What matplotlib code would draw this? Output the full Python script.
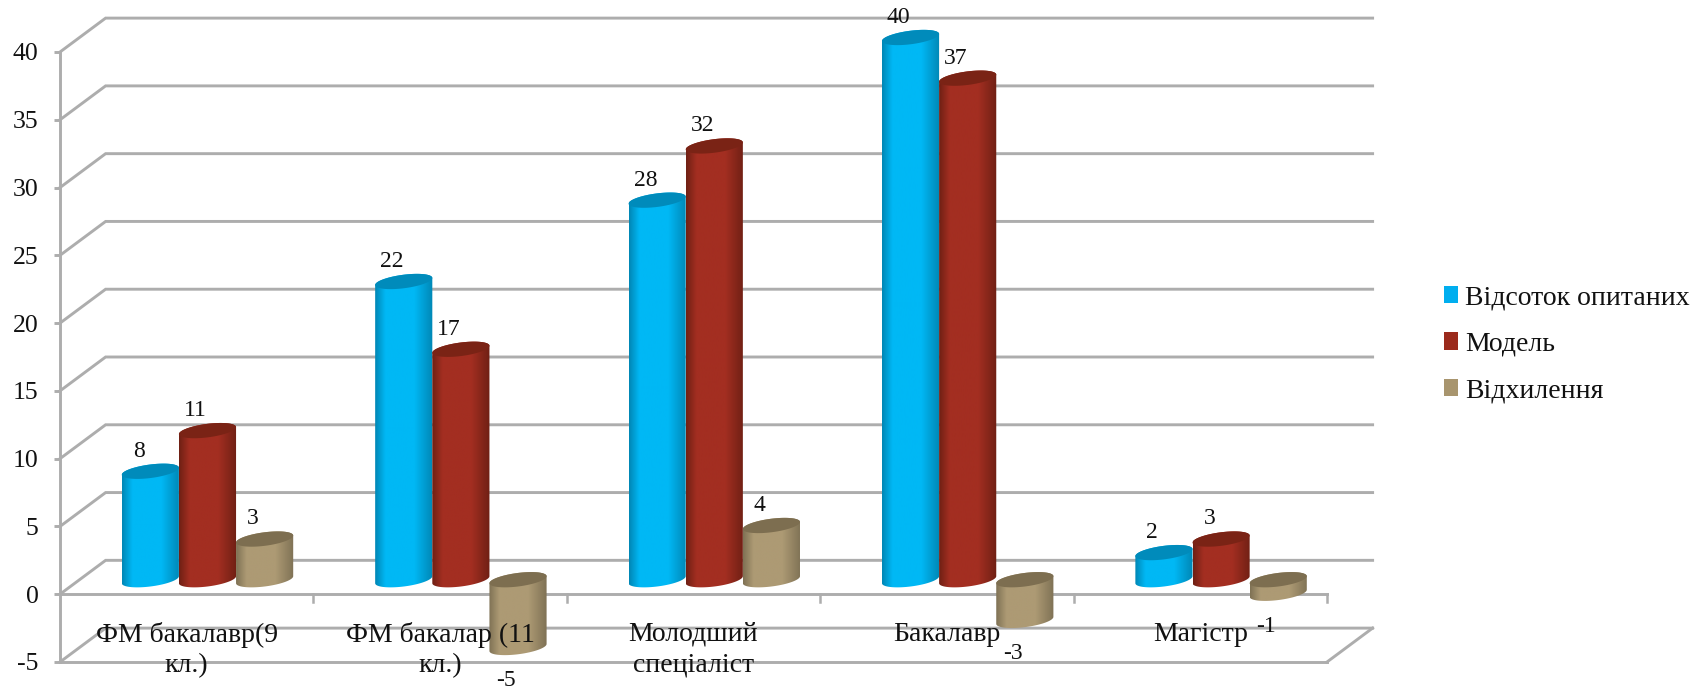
import numpy as np
import matplotlib
matplotlib.use("Agg")
import matplotlib.pyplot as plt
from matplotlib.colors import LinearSegmentedColormap
from matplotlib.patches import PathPatch, Patch, Polygon
from matplotlib.path import Path

categories = ["ФМ бакалавр(9\nкл.)", "ФМ бакалар (11\nкл.)", "Молодший\nспеціаліст", "Бакалавр", "Магістр"]
series_names = ["Відсоток опитаних", "Модель", "Відхилення"]
respondents = [8, 22, 28, 40, 2]
model = [11, 17, 32, 37, 3]
deviation = [3, -5, 4, -3, -1]
y_ticks = [-5, 0, 5, 10, 15, 20, 25, 30, 35, 40]

series_values = [respondents, model, deviation]
side_colors = [("#0087B5", "#00B8F5"), ("#6F2014", "#A32E21"), ("#7F7255", "#AD9A74")]
top_colors = ["#008BBB", "#7A2315", "#7D6E50"]
legend_colors = ["#00AEEF", "#9B2A1C", "#A8956E"]
GRID = "#ADADAD"
FONT = "Liberation Serif"

W, H = 1707, 690
fig = plt.figure(figsize=(W / 100, H / 100), dpi=100, facecolor="white")
x0, x1 = 60, 1327
ytop, ybot = 52, 662
ax = fig.add_axes([x0 / W, 1 - ybot / H, (x1 - x0) / W, (ybot - ytop) / H])
ax.set_xlim(0, len(categories))
ax.set_ylim(-5, 40)
ax.patch.set_visible(False)

DX, DY = 0.18, 2.5      # depth of the wall
BX, BY = 0.082, 1.07    # depth of the bar plane
BAR_W = 0.2255
LW = 2.1

# walls and floor
for v in y_ticks:
    ax.plot([0, DX, len(categories) + DX], [v, v + DY, v + DY], color=GRID, lw=LW, zorder=1,
            clip_on=False, solid_joinstyle="miter")
ax.plot([0, len(categories)], [-5, -5], color=GRID, lw=LW, zorder=1, clip_on=False)
ax.plot([len(categories), len(categories) + DX], [-5, -5 + DY], color=GRID, lw=LW, zorder=1, clip_on=False)
ax.plot([0, len(categories)], [0, 0], color=GRID, lw=LW, zorder=1, clip_on=False)

for s in ["top", "right", "bottom"]:
    ax.spines[s].set_visible(False)
ax.spines["left"].set_color(GRID)
ax.spines["left"].set_linewidth(LW)
ax.spines["left"].set_zorder(2)
ax.set_yticks(y_ticks)
ax.set_yticklabels([str(v) for v in y_ticks], fontfamily=FONT, fontsize=18.5, color="#111111")
ax.tick_params(axis="y", length=4.5, width=LW, color=GRID, pad=11)
ax.set_xticks([])
for i in range(1, len(categories) + 1):
    ax.plot([i, i], [0, -0.6], color=GRID, lw=1.8, zorder=1, clip_on=False)


def cylinder(cx, low, high, idx, z):
    a, b, tilt = BAR_W / 2, 0.5, 0.26
    t = np.linspace(0, np.pi, 60)
    top_x = cx + a * np.cos(t)
    top_y = high + b * np.sin(t) + tilt * np.cos(t)
    t2 = np.linspace(np.pi, 2 * np.pi, 60)
    bot_x = cx + a * np.cos(t2)
    bot_y = low + b * np.sin(t2) + tilt * np.cos(t2)
    outline = np.column_stack([np.r_[top_x, bot_x], np.r_[top_y, bot_y]])
    clip = PathPatch(Path(np.vstack([outline, outline[0]]), closed=False), transform=ax.transData, fc="none", ec="none")
    ax.add_patch(clip)
    dark, light = side_colors[idx]
    cmap = LinearSegmentedColormap.from_list(
        "c", [(0, dark), (0.18, light), (0.68, light), (1, dark)])
    im = ax.imshow(np.linspace(0, 1, 128)[None, :], cmap=cmap, aspect="auto",
                   extent=[cx - a, cx + a, low - 1, high + 1], zorder=z, interpolation="bilinear")
    im.set_clip_box(fig.bbox)
    im.set_clip_path(clip)
    t3 = np.linspace(0, 2 * np.pi, 120)
    ax.add_patch(Polygon(np.column_stack([cx + a * np.cos(t3), high + b * np.sin(t3) + tilt * np.cos(t3)]),
                         closed=True, fc=top_colors[idx], ec="none", zorder=z + 0.1, clip_on=False))


z = 3
for c in range(len(categories)):
    centre = c + 0.5 + BX
    for idx, values in enumerate(series_values):
        v = values[c]
        cx = centre + (idx - 1) * BAR_W
        low, high = (0, v) if v >= 0 else (v, 0)
        cylinder(cx, low + BY, high + BY, idx, z)
        z += 1
        off = (-8.5, 14.5) if v >= 0 else (-8.5, -24)
        ax.annotate(str(v), (cx, v + BY), xytext=off, textcoords="offset points",
                    ha="center", va="center", fontfamily=FONT, fontsize=17, color="#111111",
                    zorder=100, annotation_clip=False)

ax.set_xlim(0, len(categories))
ax.set_ylim(-5, 40)

for c, label in enumerate(categories):
    ax.annotate(label, (c + 0.5, 0), xytext=(0, -20), textcoords="offset points", ha="center", va="top",
                fontfamily=FONT, fontsize=20, color="#111111", linespacing=1.27, zorder=101, annotation_clip=False)

handles = [Patch(facecolor=col, edgecolor="none") for col in legend_colors]
leg = fig.legend(handles, series_names, loc="upper left", bbox_to_anchor=(1444 / W, 1 - 285 / H),
                 frameon=False, handlelength=0.52, handleheight=0.58, handletextpad=0.25, labelspacing=0.78,
                 borderpad=0, borderaxespad=0, prop={"family": FONT, "size": 20})
for t in leg.get_texts():
    t.set_color("#111111")

fig.savefig("out.png", dpi=100, facecolor="white")
